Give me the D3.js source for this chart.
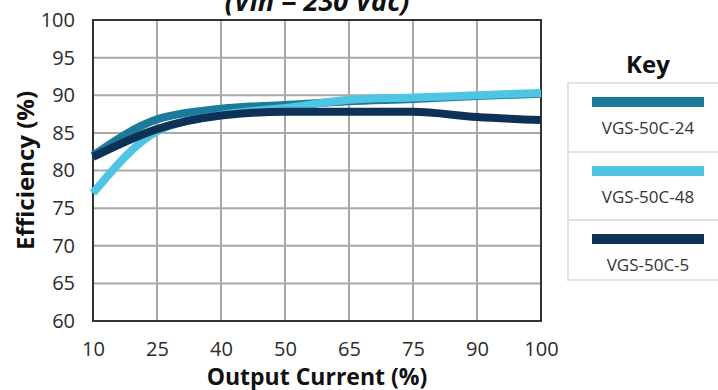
<!DOCTYPE html>
<html>
<head>
<meta charset="utf-8">
<script src="https://cdn.jsdelivr.net/npm/d3@7"></script>
<style>
  body { margin: 0; background: #fff; }
  svg { display: block; font-family: "Open Sans", sans-serif; }
</style>
</head>
<body>
<div id="chart"></div>
<script>
// output current categories (evenly spaced on the chart)
var currents = ["10", "25", "40", "50", "65", "75", "90", "100"];
var yTicks = [60, 65, 70, 75, 80, 85, 90, 95, 100];

var eff24 = [82.0, 86.8, 88.2, 88.7, 89.2, 89.5, 89.9, 90.2];
var eff48 = [77.0, 85.2, 87.4, 88.3, 89.4, 89.7, 90.0, 90.3];
var eff5  = [81.8, 85.5, 87.3, 87.8, 87.8, 87.8, 87.1, 86.7];

var seriesNames = ["VGS-50C-24", "VGS-50C-48", "VGS-50C-5"];
var seriesData = [eff24, eff48, eff5];
var colors = ["#1b7b9b", "#4ec5e2", "#0e3257"];

(function(){
  var width = 718, height = 390;
  var pl = 93, pr = 541, pt = 20, pb = 321;

  var svg = d3.select("#chart").append("svg")
    .attr("width", width)
    .attr("height", height);

  var x = d3.scalePoint().domain(currents).range([pl, pr]);
  var y = d3.scaleLinear().domain([60, 100]).range([pb, pt]);

  // title, cut off at the top
  svg.append("text")
    .attr("x", (pl + pr) / 2)
    .attr("y", 11)
    .attr("text-anchor", "middle")
    .style("font-size", "27px")
    .style("font-weight", "bold")
    .style("font-style", "italic")
    .style("fill", "#111")
    .text("(Vin = 230 Vac)");

  // grid
  svg.append("g")
    .selectAll("line")
    .data(currents)
    .enter().append("line")
    .attr("x1", function(d) { return x(d); })
    .attr("x2", function(d) { return x(d); })
    .attr("y1", pt).attr("y2", pb)
    .attr("stroke", "#a8a8a8").attr("stroke-width", 2);

  svg.append("g")
    .selectAll("line")
    .data(yTicks)
    .enter().append("line")
    .attr("x1", pl).attr("x2", pr)
    .attr("y1", function(d) { return y(d); })
    .attr("y2", function(d) { return y(d); })
    .attr("stroke", "#a8a8a8").attr("stroke-width", 2);

  // frame
  svg.append("rect")
    .attr("x", pl).attr("y", pt)
    .attr("width", pr - pl).attr("height", pb - pt)
    .attr("fill", "none")
    .attr("stroke", "#333").attr("stroke-width", 2);

  // axes
  var yAxis = svg.append("g")
    .attr("transform", "translate(" + pl + ",0)")
    .call(d3.axisLeft(y).tickValues(yTicks).tickSize(0).tickPadding(18));
  var xAxis = svg.append("g")
    .attr("transform", "translate(0," + pb + ")")
    .call(d3.axisBottom(x).tickSize(0).tickPadding(21));
  [yAxis, xAxis].forEach(function(a) {
    a.select(".domain").remove();
    a.attr("font-family", "Open Sans").attr("font-size", 20);
    a.selectAll("text").attr("fill", "#2b2b2b");
  });

  svg.append("text")
    .attr("transform", "translate(34," + ((pt + pb) / 2) + ") rotate(-90)")
    .attr("text-anchor", "middle")
    .style("font-size", "24px")
    .style("font-weight", "bold")
    .style("fill", "#111")
    .text("Efficiency (%)");

  svg.append("text")
    .attr("x", (pl + pr) / 2)
    .attr("y", 385)
    .attr("text-anchor", "middle")
    .style("font-size", "23px")
    .style("font-weight", "bold")
    .style("fill", "#111")
    .text("Output Current (%)");

  // lines
  var line = d3.line()
    .x(function(d, i) { return x(currents[i]); })
    .y(function(d) { return y(d); })
    .curve(d3.curveMonotoneX);

  svg.append("g")
    .selectAll("path")
    .data(seriesData)
    .enter().append("path")
    .attr("d", function(d) { return line(d); })
    .attr("fill", "none")
    .attr("stroke", function(d, i) { return colors[i]; })
    .attr("stroke-width", 8);

  // key
  svg.append("text")
    .attr("x", 648).attr("y", 73)
    .attr("text-anchor", "middle")
    .style("font-size", "24px")
    .style("font-weight", "bold")
    .style("fill", "#111")
    .text("Key");

  var cellTop = [83, 152, 220];
  var cellH = [69, 68, 60];
  var key = svg.append("g");
  seriesNames.forEach(function(name, i) {
    key.append("rect")
      .attr("x", 568).attr("y", cellTop[i])
      .attr("width", 160).attr("height", cellH[i])
      .attr("fill", "#fff")
      .attr("stroke", "#e2e2e2").attr("stroke-width", 2);
    key.append("rect")
      .attr("x", 592).attr("y", cellTop[i] + 14)
      .attr("width", 112).attr("height", 10)
      .attr("fill", colors[i]);
    key.append("text")
      .attr("x", 648).attr("y", cellTop[i] + 51)
      .attr("text-anchor", "middle")
      .style("font-size", "17px")
      .style("fill", "#333")
      .text(name);
  });
})();
</script>
</body>
</html>
